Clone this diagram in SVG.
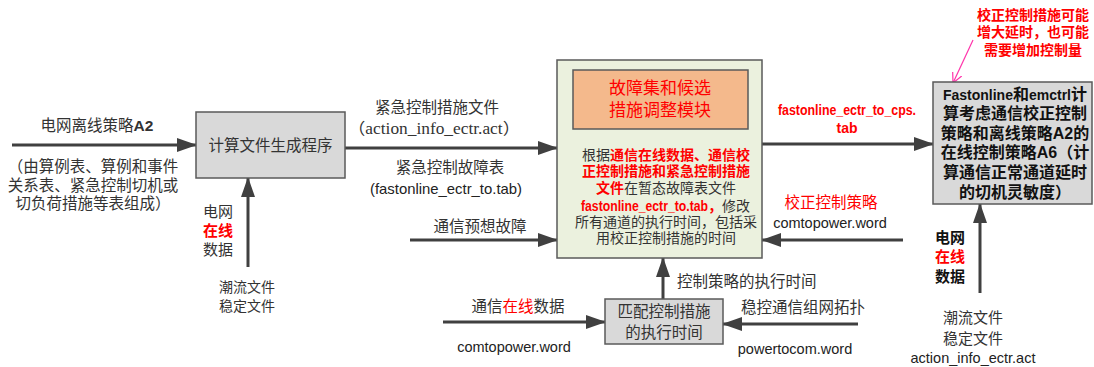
<svg xmlns="http://www.w3.org/2000/svg" width="1094" height="367" viewBox="0 0 1094 367">
<style>
.t{font-family:"Noto Sans CJK SC","Liberation Sans",sans-serif;fill:#333;}
.l{font-family:"Liberation Sans","Noto Sans CJK SC",sans-serif;fill:#222;}
.m{text-anchor:middle;}
.b{font-weight:bold;}
.r{fill:#ff0000;}
.k{fill:#111;}
.box{stroke:#5a5a5a;stroke-width:1.5;}
.c{stroke:#404040;stroke-width:3;fill:none;marker-end:url(#ah);}
</style>
<defs>
<marker id="ah" markerUnits="userSpaceOnUse" markerWidth="20" markerHeight="14" refX="19" refY="7" orient="auto">
<path d="M0,0 L20,7 L0,14 Z" fill="#404040"/>
</marker>
<marker id="pk" markerUnits="userSpaceOnUse" markerWidth="12" markerHeight="12" refX="10" refY="6" orient="auto">
<path d="M0,1 L10,6 L0,11" fill="none" stroke="#ff33aa" stroke-width="1.2"/>
</marker>
</defs>

<g id="connectors">
<path class="c" d="M12,145 L196,145"/>
<path class="c" d="M248,267 L248,178"/>
<path class="c" d="M345,148 L557,148"/>
<path class="c" d="M410,240 L557,240"/>
<path class="c" d="M762,144 L933,144"/>
<path class="c" d="M903,240 L762,240"/>
<path class="c" d="M980,293 L980,204"/>
<path class="c" d="M663,299 L663,258"/>
<path class="c" d="M443,322 L605,322"/>
<path class="c" d="M858,324 L723,324"/>
<path d="M973,40 L953,83" stroke="#ff33aa" stroke-width="1.2" fill="none" marker-end="url(#pk)"/>
</g>

<g id="labels">
<text class="t m" x="97" y="131" font-size="15.5">电网离线策略<tspan class="b" font-family="Liberation Sans">A2</tspan></text>
<text class="t m" x="93" y="172" font-size="15.5">（由算例表、算例和事件</text>
<text class="t m" x="93" y="191" font-size="15.5">关系表、紧急控制切机或</text>
<text class="t m" x="93" y="209" font-size="15.5">切负荷措施等表组成）</text>
<text class="t m" x="218" y="217" font-size="15">电网</text>
<text class="t m b r" x="218" y="236" font-size="15">在线</text>
<text class="t m" x="218" y="255" font-size="15">数据</text>
<text class="t m" x="247" y="292" font-size="14">潮流文件</text>
<text class="t m" x="247" y="311" font-size="14">稳定文件</text>
<text class="t m" x="437" y="113" font-size="15.5">紧急控制措施文件</text>
<text class="t m" x="434" y="134" font-size="16" textLength="172" lengthAdjust="spacingAndGlyphs" style="font-family:'Liberation Serif','Noto Sans CJK SC',serif">（action_info_ectr.act）</text>
<text class="t m" x="450" y="173" font-size="15.5">紧急控制故障表</text>
<text class="l m" x="446" y="194" font-size="15" textLength="152" lengthAdjust="spacingAndGlyphs">(fastonline_ectr_to.tab)</text>
<text class="t m" x="480" y="232" font-size="15.5">通信预想故障</text>
<text class="l m b r" x="847" y="115" font-size="14" textLength="138" lengthAdjust="spacingAndGlyphs">fastonline_ectr_to_cps.</text>
<text class="l m b r" x="847" y="133" font-size="14">tab</text>
<text class="t m b r" x="1033" y="20" font-size="14">校正控制措施可能</text>
<text class="t m b r" x="1033" y="37" font-size="14">增大延时，也可能</text>
<text class="t m b r" x="1033" y="55" font-size="14">需要增加控制量</text>
<text class="t m r" x="831" y="208" font-size="15.5">校正控制策略</text>
<text class="l m" x="830" y="228" font-size="14.5">comtopower.word</text>
<text class="t m b k" x="950" y="243" font-size="15">电网</text>
<text class="t m b r" x="950" y="262" font-size="15">在线</text>
<text class="t m b k" x="950" y="282" font-size="15">数据</text>
<text class="t m" x="973" y="323" font-size="15">潮流文件</text>
<text class="t m" x="973" y="344" font-size="15">稳定文件</text>
<text class="l m" x="973" y="363" font-size="14.5">action_info_ectr.act</text>
<text class="t" x="677" y="287" font-size="15.5">控制策略的执行时间</text>
<text class="t m" x="518" y="312" font-size="15.5">通信<tspan class="r">在线</tspan>数据</text>
<text class="l m" x="514" y="352" font-size="14.5">comtopower.word</text>
<text class="t m" x="803" y="313" font-size="15.5">稳控通信组网拓扑</text>
<text class="l m" x="795" y="354" font-size="14.5">powertocom.word</text>
</g>

<g id="node-calc">
<rect class="box" x="196" y="112" width="149" height="66" fill="#d9d9d9"/>
<text class="t m" x="270.5" y="151" font-size="15.5">计算文件生成程序</text>
</g>

<g id="node-fault">
<rect class="box" x="557" y="60" width="205" height="198" fill="#ebf1de"/>
<rect class="box" x="573" y="70" width="175" height="59" fill="#f4b98c"/>
<text class="t m r" x="660" y="94" font-size="17">故障集和候选</text>
<text class="t m r" x="660" y="116" font-size="17">措施调整模块</text>
<text class="t m" x="666" y="160" font-size="14">根据<tspan class="b r">通信在线数据、通信校</tspan></text>
<text class="t m b r" x="666" y="176" font-size="14">正控制措施和紧急控制措施</text>
<text class="t m" x="666" y="193" font-size="14"><tspan class="b r">文件</tspan>在暂态故障表文件</text>
<text class="l b r" x="581" y="211" font-size="14" textLength="127" lengthAdjust="spacingAndGlyphs">fastonline_ectr_to.tab</text>
<text class="t" x="708" y="211" font-size="14"><tspan class="b r">，</tspan>修改</text>
<text class="t m" x="666" y="227" font-size="14">所有通道的执行时间，包括采</text>
<text class="t m" x="666" y="243" font-size="14">用校正控制措施的时间</text>
</g>

<g id="node-fastonline">
<rect class="box" x="933" y="82" width="159" height="122" fill="#d9d9d9"/>
<text class="t m b k" x="1015" y="100" font-size="16"><tspan font-family="Liberation Sans" font-size="14">Fastonline</tspan>和<tspan font-family="Liberation Sans" font-size="14">emctrl</tspan>计</text>
<text class="t m b k" x="1015" y="119" font-size="16">算考虑通信校正控制</text>
<text class="t m b k" x="1015" y="139" font-size="16">策略和离线策略<tspan font-family="Liberation Sans">A2</tspan>的</text>
<text class="t m b k" x="1015" y="158" font-size="16">在线控制策略<tspan font-family="Liberation Sans">A6</tspan>（计</text>
<text class="t m b k" x="1015" y="178" font-size="16">算通信正常通道延时</text>
<text class="t m b k" x="1015" y="198" font-size="16">的切机灵敏度）</text>
</g>

<g id="node-match">
<rect class="box" x="605" y="299" width="118" height="45" fill="#d9d9d9"/>
<text class="t m" x="664" y="317" font-size="15.5">匹配控制措施</text>
<text class="t m" x="664" y="338" font-size="15.5">的执行时间</text>
</g>
</svg>
